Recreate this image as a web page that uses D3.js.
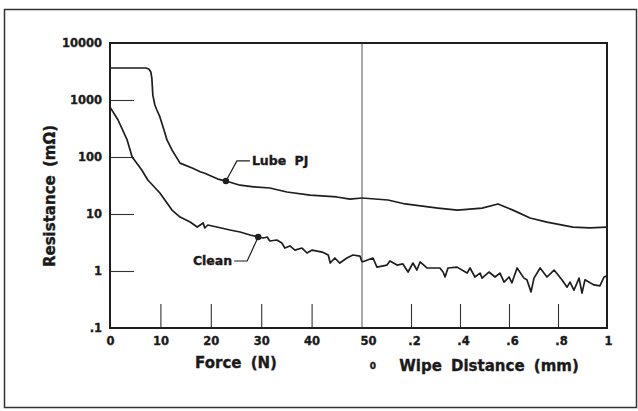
<!DOCTYPE html>
<html>
<head>
<meta charset="utf-8">
<script src="https://cdn.jsdelivr.net/npm/d3@7"></script>
<style>
  body { margin: 0; background: #fff; }
  svg text { font-family: "DejaVu Sans", sans-serif; font-weight: bold; fill: #1a1a1a;
             stroke: #1a1a1a; stroke-width: 0.35px; }
</style>
</head>
<body>
<svg id="chart" width="638" height="411"></svg>
<script>
// force section: [N, mOhm]
const lubeForce = [
  [0, 3640], [7.1, 3640], [7.7, 3500], [8.1, 3100], [8.3, 2430], [8.5, 1220],
  [8.9, 817], [9.3, 668], [9.9, 504], [10.9, 264], [11.3, 199], [12.3, 133],
  [13.9, 78], [16.3, 64], [17.9, 55], [18.8, 52], [21.4, 41], [23.0, 38],
  [25.8, 32], [28.5, 30], [31.7, 28.6], [35.1, 24.3], [39.7, 21.5], [45.0, 19.9],
  [47.6, 18.3], [50, 19.1]
];
const cleanForce = [
  [0, 750], [1.6, 446], [3.4, 199], [4.4, 100], [6.3, 59], [7.5, 39.5],
  [9.9, 23.4], [12.3, 11.7], [13.9, 8.85], [15.9, 7.24], [17.3, 5.91], [18.5, 6.95],
  [18.8, 5.68], [19.4, 6.41], [21.2, 5.91], [23.8, 5.24], [25.8, 4.83], [27.8, 4.28],
  [29.4, 3.95], [30.4, 3.79], [31.2, 3.95], [31.7, 3.36], [33.1, 3.5], [34.1, 3.1],
  [34.7, 2.53], [35.7, 2.75], [36.7, 2.33], [38.1, 2.53], [39.1, 2.07], [40.1, 2.33],
  [42.1, 2.15], [43.3, 1.91], [43.7, 1.38], [44.6, 1.69], [45.6, 1.38], [47.0, 1.69],
  [48.2, 1.91], [49.6, 1.83], [50, 1.44]
];
// wipe section: [mm, mOhm]
const lubeWipe = [
  [0, 19.1], [0.106, 17.6], [0.176, 15.0], [0.31, 12.7], [0.39, 11.7], [0.49, 12.7],
  [0.555, 15.0], [0.616, 11.7], [0.686, 8.5], [0.755, 7.2], [0.861, 5.9], [0.93, 5.7],
  [1.0, 5.9]
];
const cleanWipe = [
  [0, 1.44], [0.045, 1.69], [0.061, 1.17], [0.102, 1.27], [0.114, 1.5], [0.143, 1.27],
  [0.167, 1.33], [0.188, 0.96], [0.208, 1.38], [0.224, 1.04], [0.237, 1.44], [0.265, 1.13],
  [0.318, 1.13], [0.331, 0.96], [0.339, 0.785], [0.351, 1.13], [0.388, 1.17], [0.429, 0.92],
  [0.441, 1.13], [0.461, 0.785], [0.482, 0.92], [0.49, 0.75], [0.518, 0.96], [0.543, 0.785],
  [0.563, 0.92], [0.58, 0.64], [0.6, 0.785], [0.612, 0.62], [0.633, 1.13], [0.661, 0.75],
  [0.673, 0.7], [0.69, 0.43], [0.702, 0.75], [0.727, 1.13], [0.755, 0.785], [0.784, 1.04],
  [0.816, 0.7], [0.837, 0.52], [0.849, 0.64], [0.865, 0.46], [0.886, 0.75], [0.898, 0.41],
  [0.91, 0.7], [0.931, 0.62], [0.947, 0.57], [0.971, 0.55], [0.988, 0.785], [1.0, 0.82]
];

const yTicks = [10000, 1000, 100, 10, 1, 0.1];
const yTickLabels = ["10000", "1000", "100", "10", "1", ".1"];
const forceTicks = [0, 10, 20, 30, 40, 50];
const wipeTicks = [0.2, 0.4, 0.6, 0.8, 1];
const wipeTickLabels = [".2", ".4", ".6", ".8", "1"];

// label, force, value
const callouts = [
  { label: "Lube PJ", x: 23.0, v: 38, side: "right" },
  { label: "Clean", x: 29.4, v: 3.95, side: "left" }
];

const svg = d3.select("#chart");
const plotL = 110, plotR = 607, plotT = 43, plotB = 328, split = 362;
const ink = "#1e1e1e";

const y = d3.scaleLog().domain([0.1, 10000]).range([plotB, plotT]);
const xF = d3.scaleLinear().domain([0, 50]).range([plotL, split]);
const xW = d3.scaleLinear().domain([0, 1]).range([split, plotR]);

// outer frame
svg.append("rect")
  .attr("x", 4.5).attr("y", 9.5).attr("width", 632).attr("height", 398)
  .attr("fill", "#fff").attr("stroke", "#333").attr("stroke-width", 1.5);

// divider
svg.append("line")
  .attr("x1", split).attr("x2", split).attr("y1", plotT).attr("y2", plotB)
  .attr("stroke", "#555").attr("stroke-width", 1);

// y axis
const gy = svg.append("g")
  .attr("transform", `translate(${plotL},0)`)
  .call(d3.axisLeft(y).tickValues(yTicks).tickSize(-24).tickPadding(8)
    .tickFormat((d, i) => yTickLabels[i]));
gy.select(".domain").remove();
gy.selectAll(".tick line").attr("stroke", "#333").attr("stroke-width", 1.1)
  .filter(d => d === 10000 || d === 0.1).remove();
gy.selectAll(".tick text").style("font-size", "11.5px").attr("fill", ink);

// force axis
const gf = svg.append("g")
  .attr("transform", `translate(0,${plotB})`)
  .call(d3.axisBottom(xF).tickValues(forceTicks).tickSize(-24).tickPadding(9));
gf.select(".domain").remove();
gf.selectAll(".tick line").attr("stroke", "#333").attr("stroke-width", 1.1)
  .filter(d => d === 0 || d === 50).remove();
gf.selectAll(".tick text").style("font-size", "11.5px").attr("fill", ink);
gf.selectAll(".tick").filter(d => d === 50).select("text").attr("dx", 6);

// wipe axis
const gw = svg.append("g")
  .attr("transform", `translate(0,${plotB})`)
  .call(d3.axisBottom(xW).tickValues(wipeTicks).tickSize(-24).tickPadding(9)
    .tickFormat((d, i) => wipeTickLabels[i]));
gw.select(".domain").remove();
gw.selectAll(".tick line").attr("stroke", "#333").attr("stroke-width", 1.1)
  .filter(d => d === 1).remove();
gw.selectAll(".tick text").style("font-size", "11.5px").attr("fill", ink)
  .attr("dx", d => d === 1 ? 1 : 3);

// plot box
svg.append("rect")
  .attr("x", plotL).attr("y", plotT).attr("width", plotR - plotL).attr("height", plotB - plotT)
  .attr("fill", "none").attr("stroke", ink).attr("stroke-width", 2);

// curves
const lineF = d3.line().x(d => xF(d[0])).y(d => y(d[1]));
const lineW = d3.line().x(d => xW(d[0])).y(d => y(d[1]));
[[lubeForce, lineF], [cleanForce, lineF], [lubeWipe, lineW], [cleanWipe, lineW]]
  .forEach(([data, gen]) => {
    svg.append("path").datum(data)
      .attr("d", gen)
      .attr("fill", "none")
      .attr("stroke", ink)
      .attr("stroke-width", 1.7)
      .attr("stroke-linejoin", "round");
  });

// callouts
callouts.forEach(c => {
  const px = xF(c.x), py = y(c.v);
  const s = c.side === "right" ? 1 : -1;
  const dy = c.side === "right" ? -20 : 24;
  svg.append("polyline")
    .attr("points", [[px, py], [px + s * 11, py + dy], [px + s * 24, py + dy]].join(" "))
    .attr("fill", "none").attr("stroke", ink).attr("stroke-width", 1.2);
  svg.append("circle").attr("cx", px).attr("cy", py).attr("r", 3.2).attr("fill", ink);
  svg.append("text")
    .attr("x", px + s * 26).attr("y", py + dy)
    .attr("dy", "0.36em")
    .attr("text-anchor", c.side === "right" ? "start" : "end")
    .style("font-size", "12.5px")
    .style("word-spacing", "4px")
    .text(c.label);
});

// axis titles
svg.append("text")
  .attr("x", xF(25)).attr("y", 368)
  .attr("text-anchor", "middle")
  .style("font-size", "15px").style("word-spacing", "4px")
  .text("Force (N)");
svg.append("text")
  .attr("x", xW(0) + 11).attr("y", 369)
  .attr("text-anchor", "middle")
  .style("font-size", "9px")
  .text("0");
svg.append("text")
  .attr("x", 489).attr("y", 371)
  .attr("text-anchor", "middle")
  .style("font-size", "15px").style("word-spacing", "4px")
  .text("Wipe Distance (mm)");
svg.append("text")
  .attr("transform", "translate(55,196) rotate(-90)")
  .attr("text-anchor", "middle")
  .style("font-size", "15px").style("word-spacing", "3px")
  .text("Resistance (mΩ)");
</script>
</body>
</html>
